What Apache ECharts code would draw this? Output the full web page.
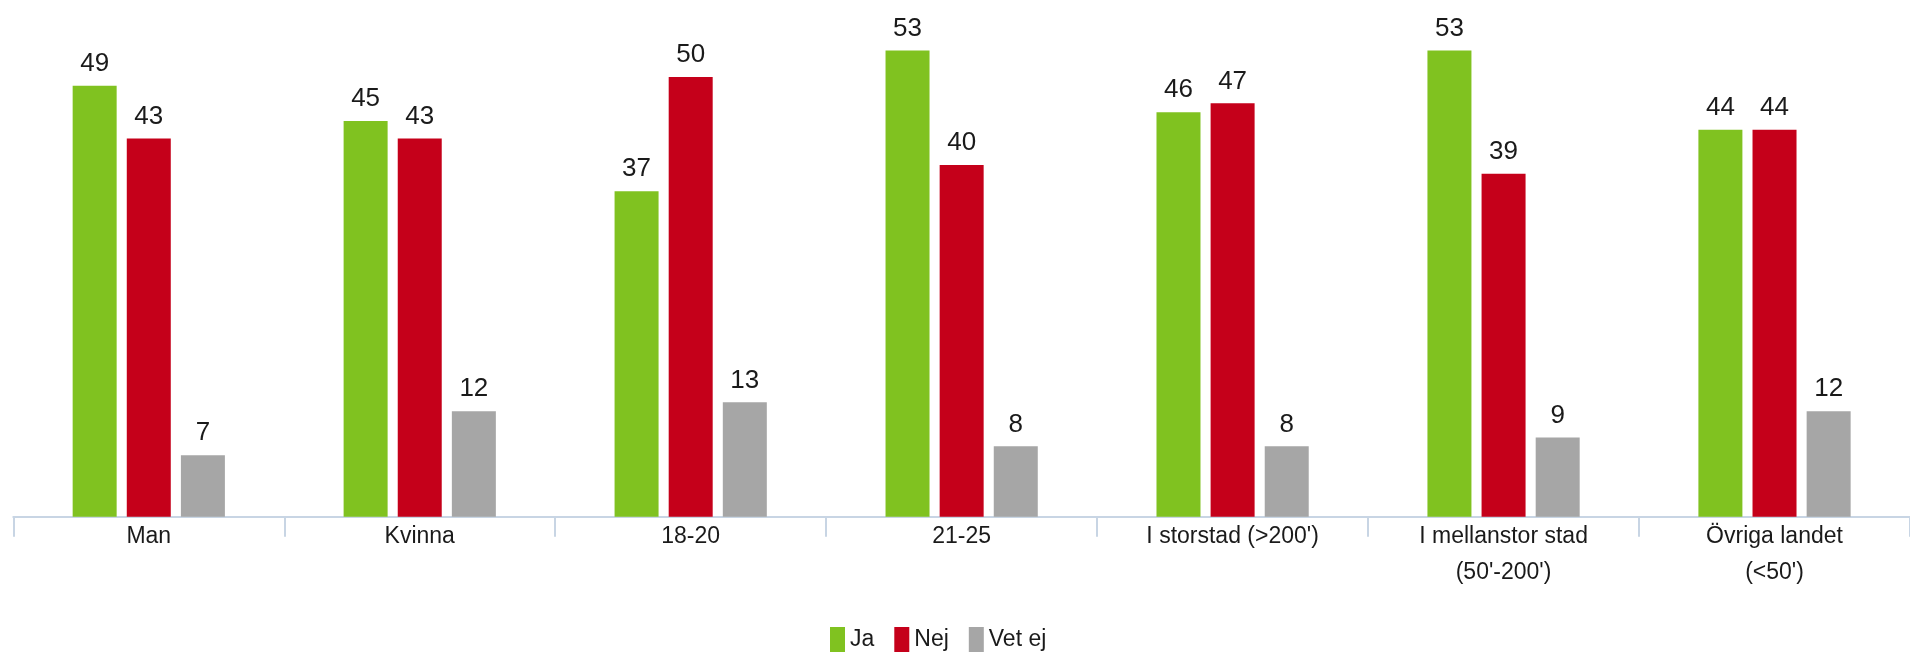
<!DOCTYPE html>
<html>
<head>
<meta charset="utf-8">
<script src="https://cdn.jsdelivr.net/npm/echarts@6/dist/echarts.min.js"></script>
<style>
html,body{margin:0;padding:0;background:#fff;}
#chart{width:1910px;height:655px;}
</style>
</head>
<body>
<div id="chart"></div>
<script>
const categories = ['Man', 'Kvinna', '18-20', '21-25', 'I storstad (>200\')', 'I mellanstor stad\n(50\'-200\')', 'Övriga landet\n(<50\')'];
const seriesNames = ['Ja', 'Nej', 'Vet ej'];
const jaValues = [49, 45, 37, 53, 46, 53, 44];
const nejValues = [43, 43, 50, 40, 47, 39, 44];
const vetEjValues = [7, 12, 13, 8, 8, 9, 12];
const colors = ['#80C220', '#C5001A', '#A6A6A6'];

const chart = echarts.init(document.getElementById('chart'), null, {renderer: 'canvas'});
const font = 'Liberation Sans, Arial, sans-serif';
const labelCfg = {
  show: true, position: 'top', distance: 9,
  fontFamily: font, fontSize: 26, color: '#1a1a1a'
};
function mk(name, data, color) {
  return {
    name: name, type: 'bar', data: data,
    barWidth: 44, barGap: '23%',
    itemStyle: {color: color},
    label: labelCfg,
    emphasis: {disabled: true}
  };
}
chart.setOption({
  animation: false,
  color: colors,
  legend: {
    data: seriesNames,
    left: 830, top: 627, padding: 0,
    itemWidth: 15, itemHeight: 25, itemGap: 20,
    icon: 'rect',
    textStyle: {fontFamily: font, fontSize: 23, color: '#1a1a1a'}
  },
  grid: {left: 13.3, right: -9, top: 33, bottom: 138.3, containLabel: false},
  xAxis: {
    type: 'category', data: categories,
    axisLine: {show: true, lineStyle: {color: '#C8D5E4', width: 2}},
    axisTick: {show: true, alignWithLabel: false, length: 20, lineStyle: {color: '#C8D5E4', width: 2}},
    axisLabel: {fontFamily: font, fontSize: 23, lineHeight: 36, color: '#1a1a1a', margin: 2, interval: 0}
  },
  yAxis: {
    type: 'value', min: 0, max: 55,
    show: false,
    splitLine: {show: false}
  },
  series: [
    mk(seriesNames[0], jaValues, colors[0]),
    mk(seriesNames[1], nejValues, colors[1]),
    mk(seriesNames[2], vetEjValues, colors[2])
  ]
});
</script>
</body>
</html>
